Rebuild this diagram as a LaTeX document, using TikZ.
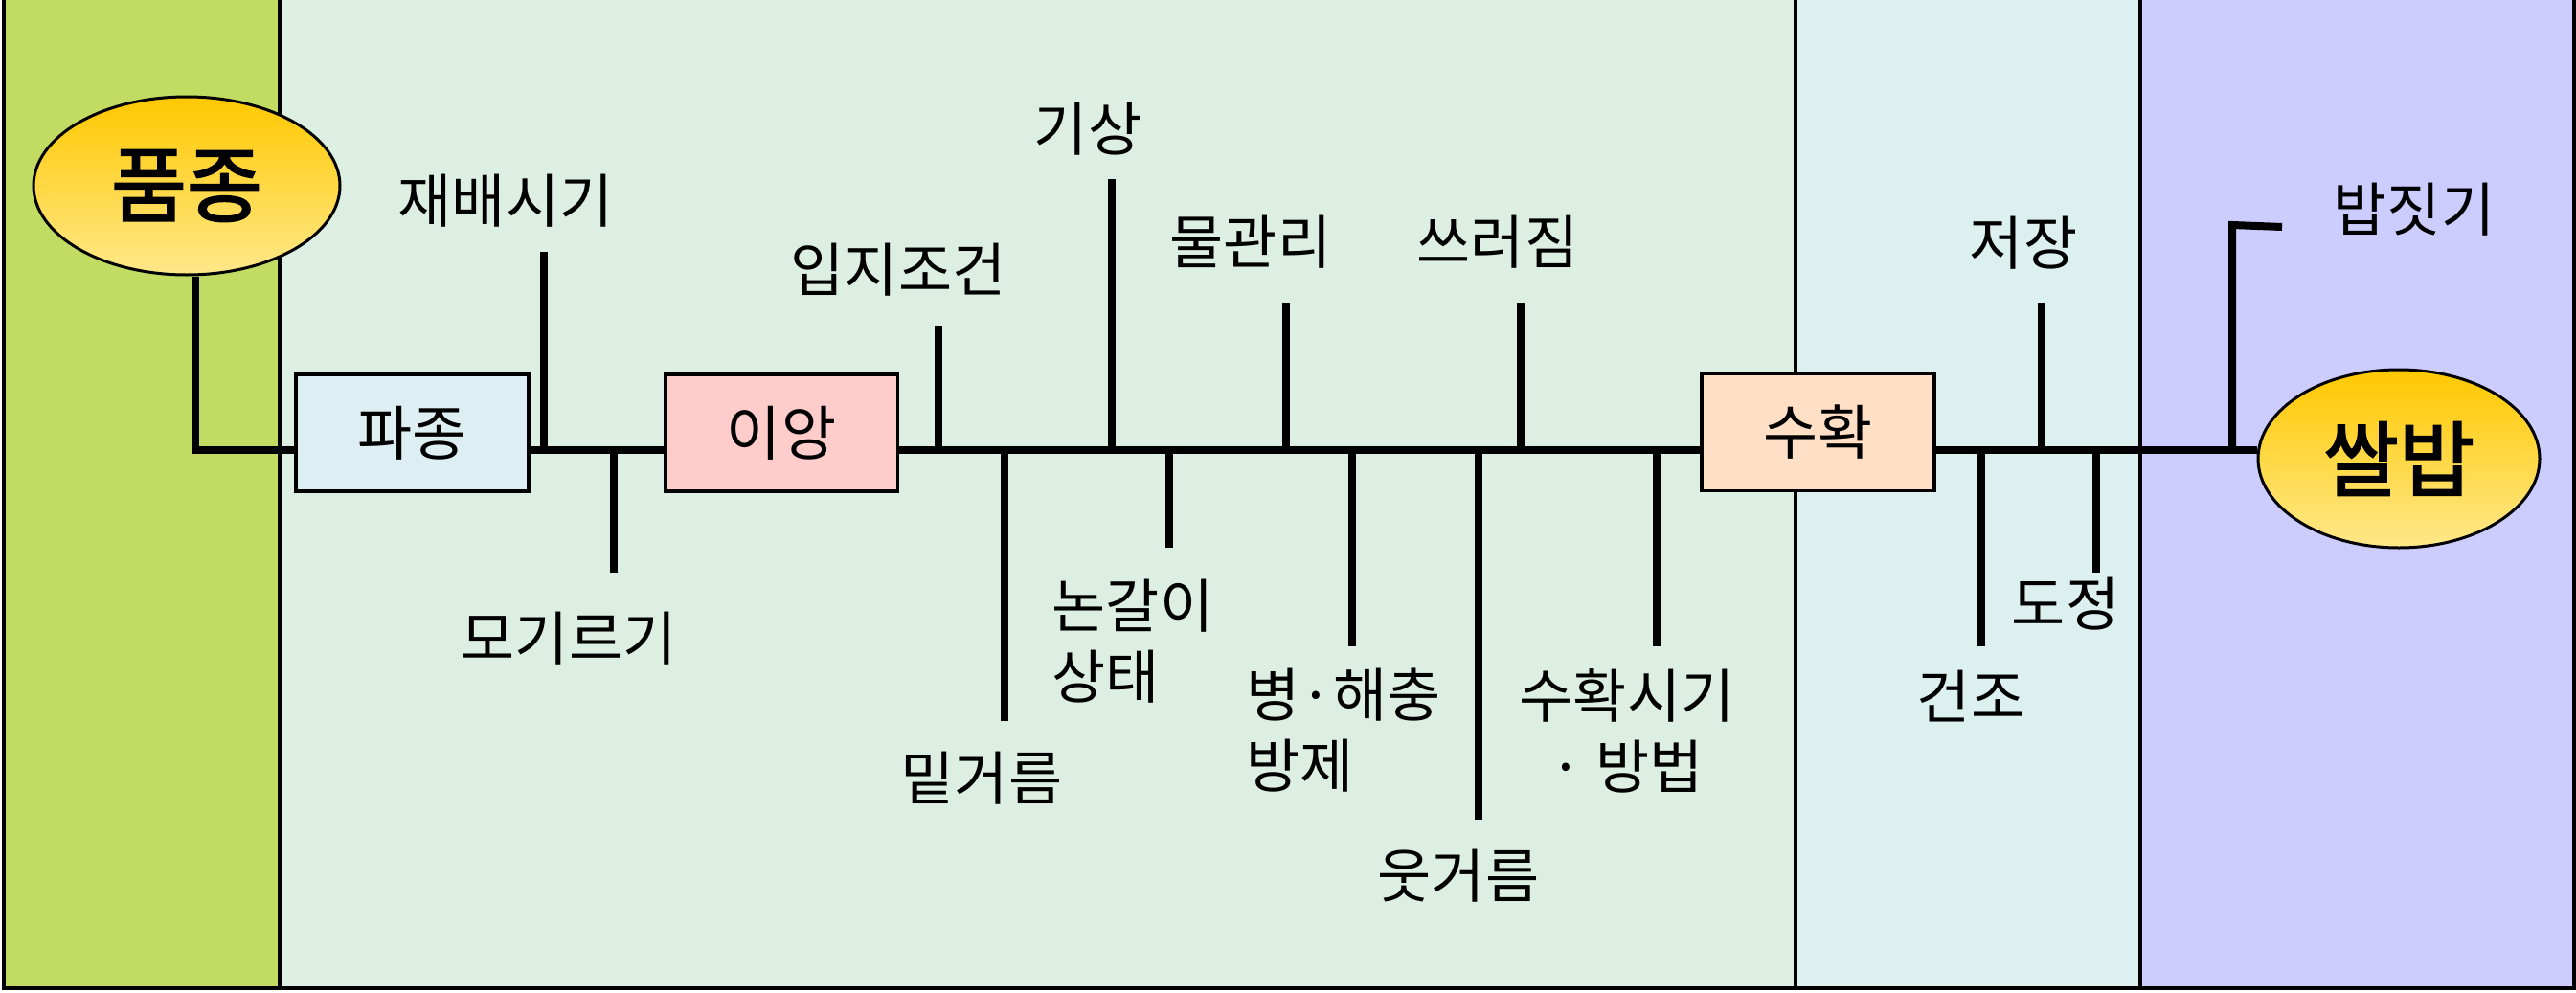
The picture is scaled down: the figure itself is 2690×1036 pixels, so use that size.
\documentclass[tikz,border=0pt]{standalone}
\usepackage{fontspec}
\newfontfamily\kr{Noto Sans CJK KR}
\newfontfamily\krb[FakeBold=2]{Noto Sans CJK KR}
\usetikzlibrary{shapes.geometric}
\definecolor{pgreen}{HTML}{C2DB62}
\definecolor{pmint}{HTML}{DDEEE3}
\definecolor{pcyan}{HTML}{DDF0F0}
\definecolor{plav}{HTML}{CCCCFF}
\definecolor{boxblue}{HTML}{DDEFF3}
\definecolor{boxpink}{HTML}{FFCCCC}
\definecolor{boxpeach}{HTML}{FFE0C6}
\definecolor{goldtop}{HTML}{FFC800}
\definecolor{goldbot}{HTML}{FFE88A}
\tikzset{
  border/.style={line width=4pt, draw=black},
  spine/.style={line width=8pt, draw=black},
  stagebox/.style={draw=black, line width=3.5pt, minimum width=243pt, minimum height=122pt, inner sep=0pt,
    font=\kr\fontsize{62}{66}\selectfont},
  goal/.style={ellipse, draw=black, line width=3pt, inner sep=0pt, top color=goldtop, bottom color=goldbot,
    font=\krb\fontsize{86}{90}\selectfont},
  lbl/.style={inner sep=0pt, font=\kr\fontsize{61}{74}\selectfont},
}
\begin{document}
\begin{tikzpicture}[x=1pt,y=-1pt]
\useasboundingbox (0,0) rectangle (2690,1036);
% panels
\fill[pgreen] (4,0) rectangle (292,1032);
\fill[pmint] (292,0) rectangle (1875,1032);
\fill[pcyan] (1875,0) rectangle (2235,1032);
\fill[plav] (2235,0) rectangle (2688,1032);
\draw[border] (4,0) -- (4,1032) -- (2688,1032) -- (2688,0);
\draw[border] (292,0) -- (292,1032);
\draw[border] (1875,0) -- (1875,1032);
\draw[border] (2235,0) -- (2235,1032);

% main nodes
\node[goal, minimum width=320pt, minimum height=186pt] (pj) at (195,194) {품종};
\node[goal, minimum width=294pt, minimum height=186pt] (sb) at (2505,479) {쌀밥};
\node[stagebox, fill=boxblue] (pa) at (430.5,452) {파종};
\node[stagebox, fill=boxpink] (ia) at (816,452) {이앙};
\node[stagebox, fill=boxpeach] (sh) at (1898.5,451.5) {수확};

% spine coordinates
\coordinate (corner) at (204,470);
\coordinate (main) at (0,470);
\draw[spine] (corner |- pj.south) -- (corner) -- (pa.west |- main);
\draw[spine] (pa.east |- main) -- (ia.west |- main);
\draw[spine] (ia.east |- main) -- (sh.west |- main);
\draw[spine] (sh.east |- main) -- (sb.west |- main);

% labels
\node[lbl] (l1) at (528,210) {재배시기};
\node[lbl] (l2) at (594,667) {모기르기};
\node[lbl] (l3) at (938,282) {입지조건};
\node[lbl] (l4) at (1136,135) {기상};
\node[lbl] (l5) at (1025,813) {밑거름};
\node[lbl, align=left] (l6) at (1183,670) {논갈이\\상태};
\node[lbl] (l7) at (1306,253) {물관리};
\node[lbl, align=left] (l8) at (1403,763) {병·해충\\방제};
\node[lbl] (l9) at (1564,253) {쓰러짐};
\node[lbl] (l10) at (1523,915) {웃거름};
\node[lbl, align=center] (l11) at (1699,763) {수확시기\\· 방법};
\node[lbl] (l12) at (2113,254) {저장};
\node[lbl] (l13) at (2058,727) {건조};
\node[lbl] (l14) at (2157,631) {도정};
\node[lbl] (l15) at (2521,219) {밥짓기};

% tick end points
\coordinate (t1) at (568,263);
\coordinate (t2) at (641,598);
\coordinate (t3) at (980,340);
\coordinate (t4) at (1161,187);
\coordinate (t5) at (1049,753);
\coordinate (t6) at (1221,572);
\coordinate (t7) at (1343,316);
\coordinate (t8) at (1412,675);
\coordinate (t9) at (1588,316);
\coordinate (t10) at (1544,856);
\coordinate (t11) at (1730,675);
\coordinate (t12) at (2132,316);
\coordinate (t13) at (2069,675);
\coordinate (t14) at (2189,598);
\coordinate (t15) at (2331,235);
\coordinate (t15e) at (2383,237);

\foreach \t in {t1,t2,t3,t4,t5,t6,t7,t8,t9,t10,t11,t12,t13,t14}
  \draw[spine] (\t |- main) -- (\t);
\draw[spine] (t15 |- main) -- (t15) -- (t15e);
\end{tikzpicture}
\end{document}
